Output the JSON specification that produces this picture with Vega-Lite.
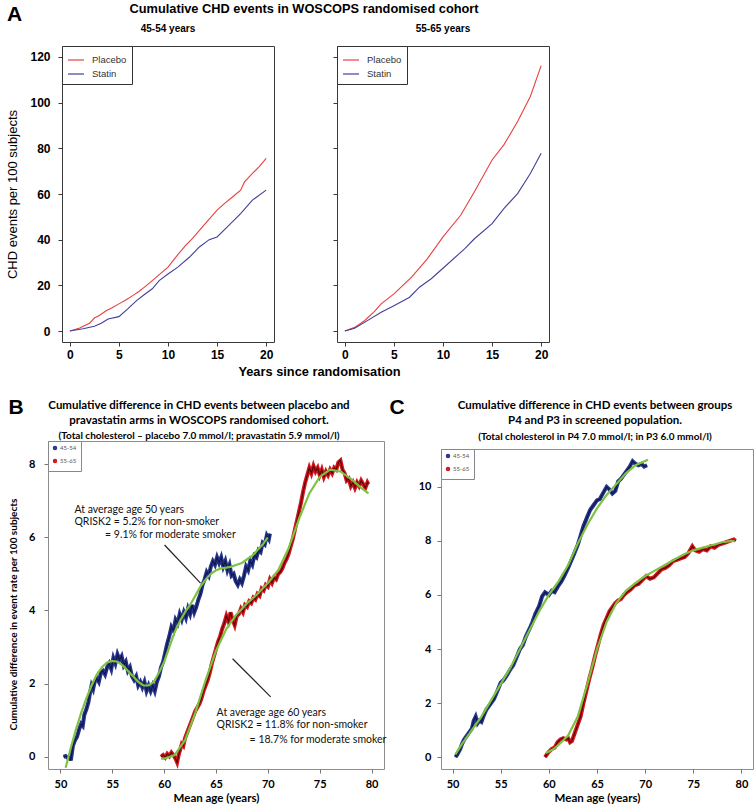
{
"$schema": "https://vega.github.io/schema/vega-lite/v6.json",
"background": "white",
"padding": {"left": 6, "top": 2, "right": 2, "bottom": 2},
"config": {"view": {"stroke": null}, "axis": {"grid": false, "domain": false, "tickSize": 4, "labelColor": "#000", "titleColor": "#000"}, "text": {"color": "#000"}},
"datasets": {
"aL": [
{"g":"Placebo","t":0,"v":0},{"g":"Placebo","t":1,"v":1.3},{"g":"Placebo","t":2,"v":3.4},{"g":"Placebo","t":2.5,"v":5.7},{"g":"Placebo","t":3,"v":6.8},{"g":"Placebo","t":3.7,"v":8.9},{"g":"Placebo","t":4.3,"v":10.2},{"g":"Placebo","t":5,"v":11.9},{"g":"Placebo","t":5.7,"v":13.6},{"g":"Placebo","t":6.4,"v":15.5},{"g":"Placebo","t":7,"v":17.2},{"g":"Placebo","t":7.6,"v":19.2},{"g":"Placebo","t":8.4,"v":22.1},{"g":"Placebo","t":9.2,"v":25},{"g":"Placebo","t":10,"v":28},{"g":"Placebo","t":10.8,"v":32.4},{"g":"Placebo","t":11.8,"v":37.5},{"g":"Placebo","t":12.5,"v":40.6},{"g":"Placebo","t":13.2,"v":44.1},{"g":"Placebo","t":14,"v":48},{"g":"Placebo","t":15,"v":52.9},{"g":"Placebo","t":15.8,"v":56},{"g":"Placebo","t":16.6,"v":58.8},{"g":"Placebo","t":17.4,"v":61.7},{"g":"Placebo","t":17.8,"v":65.3},{"g":"Placebo","t":18.6,"v":69},{"g":"Placebo","t":19.3,"v":72},{"g":"Placebo","t":20,"v":75.6},
{"g":"Statin","t":0,"v":0},{"g":"Statin","t":1.35,"v":1},{"g":"Statin","t":2.5,"v":2.1},{"g":"Statin","t":3.2,"v":3.4},{"g":"Statin","t":3.9,"v":5.3},{"g":"Statin","t":5,"v":6.3},{"g":"Statin","t":5.9,"v":9.7},{"g":"Statin","t":6.8,"v":13.3},{"g":"Statin","t":7.6,"v":16},{"g":"Statin","t":8.4,"v":18.5},{"g":"Statin","t":9.1,"v":22.1},{"g":"Statin","t":10,"v":25},{"g":"Statin","t":11,"v":28},{"g":"Statin","t":12.2,"v":32.4},{"g":"Statin","t":13.2,"v":36.8},{"g":"Statin","t":14.2,"v":40},{"g":"Statin","t":15,"v":41.2},{"g":"Statin","t":16.2,"v":46.3},{"g":"Statin","t":17.4,"v":51.4},{"g":"Statin","t":18.6,"v":57.3},{"g":"Statin","t":20,"v":61.7}
],
"aR": [
{"g":"Placebo","t":0,"v":0},{"g":"Placebo","t":1,"v":1.6},{"g":"Placebo","t":2,"v":4.5},{"g":"Placebo","t":3,"v":8.5},{"g":"Placebo","t":3.7,"v":11.9},{"g":"Placebo","t":5,"v":16.3},{"g":"Placebo","t":6.8,"v":23.6},{"g":"Placebo","t":8.4,"v":31.6},{"g":"Placebo","t":10,"v":41.2},{"g":"Placebo","t":11.8,"v":50.7},{"g":"Placebo","t":13.2,"v":61},{"g":"Placebo","t":15,"v":74.9},{"g":"Placebo","t":16.2,"v":81.5},{"g":"Placebo","t":17.6,"v":91.7},{"g":"Placebo","t":18.9,"v":102.7},{"g":"Placebo","t":20,"v":116.2},
{"g":"Statin","t":0,"v":0},{"g":"Statin","t":1,"v":1.2},{"g":"Statin","t":2,"v":3.8},{"g":"Statin","t":3.7,"v":8.2},{"g":"Statin","t":5,"v":11.1},{"g":"Statin","t":6.6,"v":14.8},{"g":"Statin","t":7.6,"v":19.2},{"g":"Statin","t":8.8,"v":22.9},{"g":"Statin","t":10,"v":27.5},{"g":"Statin","t":12.2,"v":36},{"g":"Statin","t":13.2,"v":40.4},{"g":"Statin","t":15,"v":47},{"g":"Statin","t":16.2,"v":53.6},{"g":"Statin","t":17.6,"v":60.2},{"g":"Statin","t":18.9,"v":69},{"g":"Statin","t":20,"v":77.8}
],
"bL": [
{"s":"45-54","a":50.3,"v":0},{"s":"45-54","a":50.5,"v":0.02},{"s":"45-54","a":50.7,"v":-0.03},{"s":"45-54","a":50.9,"v":0},{"s":"45-54","a":51.0,"v":-0.1},{"s":"45-54","a":51.2,"v":0.3},{"s":"45-54","a":51.4,"v":0.45},{"s":"45-54","a":51.6,"v":0.55},{"s":"45-54","a":51.8,"v":0.75},{"s":"45-54","a":52.0,"v":0.9},{"s":"45-54","a":52.15,"v":0.85},{"s":"45-54","a":52.3,"v":1.15},{"s":"45-54","a":52.5,"v":1.3},{"s":"45-54","a":52.7,"v":1.5},{"s":"45-54","a":52.85,"v":1.75},{"s":"45-54","a":53.0,"v":1.95},{"s":"45-54","a":53.15,"v":1.85},{"s":"45-54","a":53.3,"v":2.05},{"s":"45-54","a":53.5,"v":2.15},{"s":"45-54","a":53.7,"v":2.05},{"s":"45-54","a":53.9,"v":2.3},{"s":"45-54","a":54.1,"v":2.35},{"s":"45-54","a":54.3,"v":2.25},{"s":"45-54","a":54.5,"v":2.45},{"s":"45-54","a":54.7,"v":2.55},{"s":"45-54","a":54.9,"v":2.4},{"s":"45-54","a":55.1,"v":2.7},{"s":"45-54","a":55.3,"v":2.55},{"s":"45-54","a":55.5,"v":2.8},{"s":"45-54","a":55.7,"v":2.65},{"s":"45-54","a":55.9,"v":2.75},{"s":"45-54","a":56.1,"v":2.5},{"s":"45-54","a":56.3,"v":2.6},{"s":"45-54","a":56.5,"v":2.35},{"s":"45-54","a":56.7,"v":2.45},{"s":"45-54","a":56.9,"v":2.2},{"s":"45-54","a":57.1,"v":2.1},{"s":"45-54","a":57.3,"v":2.2},{"s":"45-54","a":57.5,"v":1.95},{"s":"45-54","a":57.7,"v":2.05},{"s":"45-54","a":57.9,"v":1.9},{"s":"45-54","a":58.1,"v":2.05},{"s":"45-54","a":58.3,"v":1.8},{"s":"45-54","a":58.5,"v":1.95},{"s":"45-54","a":58.7,"v":1.8},{"s":"45-54","a":58.9,"v":1.95},{"s":"45-54","a":59.1,"v":1.8},{"s":"45-54","a":59.3,"v":2.05},{"s":"45-54","a":59.5,"v":2.2},{"s":"45-54","a":59.7,"v":2.45},{"s":"45-54","a":59.9,"v":2.6},{"s":"45-54","a":60.1,"v":2.85},{"s":"45-54","a":60.3,"v":3.1},{"s":"45-54","a":60.5,"v":3.3},{"s":"45-54","a":60.7,"v":3.55},{"s":"45-54","a":60.9,"v":3.45},{"s":"45-54","a":61.1,"v":3.75},{"s":"45-54","a":61.3,"v":3.65},{"s":"45-54","a":61.5,"v":3.9},{"s":"45-54","a":61.7,"v":3.75},{"s":"45-54","a":61.9,"v":3.95},{"s":"45-54","a":62.1,"v":3.8},{"s":"45-54","a":62.3,"v":4.05},{"s":"45-54","a":62.5,"v":3.9},{"s":"45-54","a":62.7,"v":4.15},{"s":"45-54","a":62.9,"v":3.95},{"s":"45-54","a":63.1,"v":4.1},{"s":"45-54","a":63.3,"v":4.3},{"s":"45-54","a":63.5,"v":4.45},{"s":"45-54","a":63.7,"v":4.7},{"s":"45-54","a":63.9,"v":4.85},{"s":"45-54","a":64.1,"v":5.05},{"s":"45-54","a":64.3,"v":4.95},{"s":"45-54","a":64.5,"v":5.2},{"s":"45-54","a":64.7,"v":5.35},{"s":"45-54","a":64.9,"v":5.25},{"s":"45-54","a":65.1,"v":5.45},{"s":"45-54","a":65.3,"v":5.3},{"s":"45-54","a":65.5,"v":5.45},{"s":"45-54","a":65.7,"v":5.2},{"s":"45-54","a":65.9,"v":5.35},{"s":"45-54","a":66.1,"v":5.1},{"s":"45-54","a":66.3,"v":5.25},{"s":"45-54","a":66.5,"v":4.95},{"s":"45-54","a":66.7,"v":5.0},{"s":"45-54","a":66.9,"v":4.8},{"s":"45-54","a":67.1,"v":4.7},{"s":"45-54","a":67.3,"v":4.85},{"s":"45-54","a":67.5,"v":4.75},{"s":"45-54","a":67.7,"v":4.95},{"s":"45-54","a":67.9,"v":5.2},{"s":"45-54","a":68.1,"v":5.1},{"s":"45-54","a":68.3,"v":5.35},{"s":"45-54","a":68.5,"v":5.25},{"s":"45-54","a":68.7,"v":5.5},{"s":"45-54","a":68.9,"v":5.45},{"s":"45-54","a":69.1,"v":5.65},{"s":"45-54","a":69.3,"v":5.6},{"s":"45-54","a":69.5,"v":5.85},{"s":"45-54","a":69.7,"v":5.8},{"s":"45-54","a":69.9,"v":6.05},{"s":"45-54","a":70.1,"v":5.95},{"s":"45-54","a":70.2,"v":6.1},
{"s":"55-65","a":59.7,"v":0},{"s":"55-65","a":59.9,"v":0.05},{"s":"55-65","a":60.1,"v":-0.02},{"s":"55-65","a":60.3,"v":0.08},{"s":"55-65","a":60.5,"v":0.02},{"s":"55-65","a":60.7,"v":0.12},{"s":"55-65","a":60.9,"v":0.05},{"s":"55-65","a":61.1,"v":-0.05},{"s":"55-65","a":61.25,"v":-0.15},{"s":"55-65","a":61.4,"v":0.05},{"s":"55-65","a":61.55,"v":0.2},{"s":"55-65","a":61.7,"v":0.35},{"s":"55-65","a":61.85,"v":0.3},{"s":"55-65","a":62.0,"v":0.5},{"s":"55-65","a":62.2,"v":0.65},{"s":"55-65","a":62.4,"v":0.8},{"s":"55-65","a":62.6,"v":0.95},{"s":"55-65","a":62.8,"v":1.1},{"s":"55-65","a":63.0,"v":1.25},{"s":"55-65","a":63.2,"v":1.35},{"s":"55-65","a":63.4,"v":1.45},{"s":"55-65","a":63.6,"v":1.6},{"s":"55-65","a":63.8,"v":1.8},{"s":"55-65","a":64.0,"v":1.95},{"s":"55-65","a":64.2,"v":2.1},{"s":"55-65","a":64.4,"v":2.3},{"s":"55-65","a":64.6,"v":2.55},{"s":"55-65","a":64.8,"v":2.75},{"s":"55-65","a":65.0,"v":2.95},{"s":"55-65","a":65.2,"v":3.15},{"s":"55-65","a":65.4,"v":3.3},{"s":"55-65","a":65.6,"v":3.5},{"s":"55-65","a":65.8,"v":3.65},{"s":"55-65","a":66.0,"v":3.85},{"s":"55-65","a":66.2,"v":3.7},{"s":"55-65","a":66.4,"v":3.95},{"s":"55-65","a":66.6,"v":3.75},{"s":"55-65","a":66.8,"v":3.6},{"s":"55-65","a":67.0,"v":3.85},{"s":"55-65","a":67.2,"v":3.9},{"s":"55-65","a":67.4,"v":4.05},{"s":"55-65","a":67.6,"v":3.95},{"s":"55-65","a":67.8,"v":4.15},{"s":"55-65","a":68.0,"v":4.1},{"s":"55-65","a":68.2,"v":4.25},{"s":"55-65","a":68.4,"v":4.2},{"s":"55-65","a":68.6,"v":4.35},{"s":"55-65","a":68.8,"v":4.3},{"s":"55-65","a":69.0,"v":4.45},{"s":"55-65","a":69.2,"v":4.4},{"s":"55-65","a":69.4,"v":4.6},{"s":"55-65","a":69.6,"v":4.55},{"s":"55-65","a":69.8,"v":4.7},{"s":"55-65","a":70.0,"v":4.65},{"s":"55-65","a":70.2,"v":4.85},{"s":"55-65","a":70.4,"v":4.75},{"s":"55-65","a":70.6,"v":4.9},{"s":"55-65","a":70.8,"v":4.85},{"s":"55-65","a":71.0,"v":5.0},{"s":"55-65","a":71.2,"v":5.05},{"s":"55-65","a":71.4,"v":5.15},{"s":"55-65","a":71.6,"v":5.3},{"s":"55-65","a":71.8,"v":5.4},{"s":"55-65","a":72.0,"v":5.55},{"s":"55-65","a":72.2,"v":5.75},{"s":"55-65","a":72.4,"v":5.95},{"s":"55-65","a":72.6,"v":6.2},{"s":"55-65","a":72.8,"v":6.45},{"s":"55-65","a":73.0,"v":6.7},{"s":"55-65","a":73.2,"v":6.95},{"s":"55-65","a":73.4,"v":7.25},{"s":"55-65","a":73.6,"v":7.5},{"s":"55-65","a":73.8,"v":7.7},{"s":"55-65","a":74.0,"v":7.9},{"s":"55-65","a":74.2,"v":7.75},{"s":"55-65","a":74.4,"v":7.95},{"s":"55-65","a":74.6,"v":7.8},{"s":"55-65","a":74.8,"v":7.9},{"s":"55-65","a":75.0,"v":7.7},{"s":"55-65","a":75.2,"v":7.85},{"s":"55-65","a":75.4,"v":7.65},{"s":"55-65","a":75.6,"v":7.8},{"s":"55-65","a":75.8,"v":7.7},{"s":"55-65","a":76.0,"v":7.85},{"s":"55-65","a":76.2,"v":7.75},{"s":"55-65","a":76.4,"v":7.9},{"s":"55-65","a":76.6,"v":7.85},{"s":"55-65","a":76.8,"v":8.05},{"s":"55-65","a":77.0,"v":8.1},{"s":"55-65","a":77.2,"v":7.85},{"s":"55-65","a":77.4,"v":7.75},{"s":"55-65","a":77.6,"v":7.55},{"s":"55-65","a":77.8,"v":7.6},{"s":"55-65","a":78.0,"v":7.4},{"s":"55-65","a":78.2,"v":7.5},{"s":"55-65","a":78.4,"v":7.35},{"s":"55-65","a":78.6,"v":7.5},{"s":"55-65","a":78.8,"v":7.4},{"s":"55-65","a":79.0,"v":7.55},{"s":"55-65","a":79.2,"v":7.45},{"s":"55-65","a":79.4,"v":7.35},{"s":"55-65","a":79.6,"v":7.5},{"s":"55-65","a":79.7,"v":7.45}
],
"bF": [
{"s":"45-54","a":50.5,"v":-0.3},{"s":"45-54","a":51,"v":0.25},{"s":"45-54","a":51.5,"v":0.75},{"s":"45-54","a":52,"v":1.2},{"s":"45-54","a":52.5,"v":1.6},{"s":"45-54","a":53,"v":1.95},{"s":"45-54","a":53.5,"v":2.25},{"s":"45-54","a":54,"v":2.45},{"s":"45-54","a":54.5,"v":2.58},{"s":"45-54","a":55,"v":2.62},{"s":"45-54","a":55.5,"v":2.6},{"s":"45-54","a":56,"v":2.5},{"s":"45-54","a":56.5,"v":2.35},{"s":"45-54","a":57,"v":2.2},{"s":"45-54","a":57.5,"v":2.05},{"s":"45-54","a":58,"v":1.95},{"s":"45-54","a":58.5,"v":1.95},{"s":"45-54","a":59,"v":2.05},{"s":"45-54","a":59.5,"v":2.3},{"s":"45-54","a":60,"v":2.6},{"s":"45-54","a":60.5,"v":3.0},{"s":"45-54","a":61,"v":3.4},{"s":"45-54","a":61.5,"v":3.7},{"s":"45-54","a":62,"v":3.95},{"s":"45-54","a":62.5,"v":4.15},{"s":"45-54","a":63,"v":4.4},{"s":"45-54","a":63.5,"v":4.65},{"s":"45-54","a":64,"v":4.85},{"s":"45-54","a":64.5,"v":5.0},{"s":"45-54","a":65,"v":5.1},{"s":"45-54","a":65.5,"v":5.15},{"s":"45-54","a":66,"v":5.17},{"s":"45-54","a":66.5,"v":5.2},{"s":"45-54","a":67,"v":5.25},{"s":"45-54","a":67.5,"v":5.3},{"s":"45-54","a":68,"v":5.4},{"s":"45-54","a":68.5,"v":5.5},{"s":"45-54","a":69,"v":5.65},{"s":"45-54","a":69.5,"v":5.8},{"s":"45-54","a":70,"v":6.0},
{"s":"55-65","a":59.7,"v":-0.05},{"s":"55-65","a":60,"v":-0.05},{"s":"55-65","a":61,"v":0.05},{"s":"55-65","a":62,"v":0.45},{"s":"55-65","a":63,"v":1.2},{"s":"55-65","a":64,"v":2.1},{"s":"55-65","a":65,"v":2.9},{"s":"55-65","a":66,"v":3.5},{"s":"55-65","a":67,"v":3.9},{"s":"55-65","a":68,"v":4.2},{"s":"55-65","a":69,"v":4.45},{"s":"55-65","a":70,"v":4.75},{"s":"55-65","a":71,"v":5.1},{"s":"55-65","a":72,"v":5.7},{"s":"55-65","a":73,"v":6.5},{"s":"55-65","a":74,"v":7.2},{"s":"55-65","a":75,"v":7.65},{"s":"55-65","a":76,"v":7.85},{"s":"55-65","a":77,"v":7.8},{"s":"55-65","a":78,"v":7.6},{"s":"55-65","a":79,"v":7.35},{"s":"55-65","a":79.7,"v":7.2}
],
"cL": [
{"s":"45-54","a":50.3,"v":0},{"s":"45-54","a":50.5,"v":0.1},{"s":"45-54","a":50.8,"v":0.3},{"s":"45-54","a":51.0,"v":0.5},{"s":"45-54","a":51.2,"v":0.65},{"s":"45-54","a":51.5,"v":0.8},{"s":"45-54","a":51.8,"v":0.95},{"s":"45-54","a":52.0,"v":1.05},{"s":"45-54","a":52.2,"v":1.35},{"s":"45-54","a":52.4,"v":1.5},{"s":"45-54","a":52.6,"v":1.25},{"s":"45-54","a":52.8,"v":1.35},{"s":"45-54","a":53.0,"v":1.3},{"s":"45-54","a":53.2,"v":1.5},{"s":"45-54","a":53.5,"v":1.75},{"s":"45-54","a":53.7,"v":1.85},{"s":"45-54","a":54.0,"v":2.0},{"s":"45-54","a":54.3,"v":2.15},{"s":"45-54","a":54.6,"v":2.4},{"s":"45-54","a":55.0,"v":2.75},{"s":"45-54","a":55.3,"v":2.85},{"s":"45-54","a":55.6,"v":3.0},{"s":"45-54","a":56.0,"v":3.25},{"s":"45-54","a":56.3,"v":3.4},{"s":"45-54","a":56.6,"v":3.65},{"s":"45-54","a":57.0,"v":4.0},{"s":"45-54","a":57.3,"v":4.15},{"s":"45-54","a":57.6,"v":4.45},{"s":"45-54","a":58.0,"v":4.75},{"s":"45-54","a":58.3,"v":5.0},{"s":"45-54","a":58.6,"v":5.3},{"s":"45-54","a":59.0,"v":5.6},{"s":"45-54","a":59.3,"v":5.95},{"s":"45-54","a":59.6,"v":6.1},{"s":"45-54","a":60.0,"v":6.0},{"s":"45-54","a":60.3,"v":6.15},{"s":"45-54","a":60.6,"v":6.1},{"s":"45-54","a":61.0,"v":6.35},{"s":"45-54","a":61.3,"v":6.5},{"s":"45-54","a":61.6,"v":6.7},{"s":"45-54","a":62.0,"v":7.0},{"s":"45-54","a":62.3,"v":7.25},{"s":"45-54","a":62.6,"v":7.5},{"s":"45-54","a":63.0,"v":7.85},{"s":"45-54","a":63.3,"v":8.2},{"s":"45-54","a":63.6,"v":8.55},{"s":"45-54","a":64.0,"v":8.9},{"s":"45-54","a":64.3,"v":9.15},{"s":"45-54","a":64.6,"v":9.3},{"s":"45-54","a":65.0,"v":9.5},{"s":"45-54","a":65.3,"v":9.55},{"s":"45-54","a":65.6,"v":9.75},{"s":"45-54","a":66.0,"v":10.0},{"s":"45-54","a":66.3,"v":9.9},{"s":"45-54","a":66.6,"v":9.75},{"s":"45-54","a":66.9,"v":9.85},{"s":"45-54","a":67.2,"v":10.2},{"s":"45-54","a":67.5,"v":10.3},{"s":"45-54","a":67.8,"v":10.45},{"s":"45-54","a":68.1,"v":10.6},{"s":"45-54","a":68.4,"v":10.75},{"s":"45-54","a":68.7,"v":10.95},{"s":"45-54","a":69.0,"v":10.85},{"s":"45-54","a":69.3,"v":10.8},{"s":"45-54","a":69.6,"v":10.85},{"s":"45-54","a":69.9,"v":10.75},{"s":"45-54","a":70.2,"v":10.8},
{"s":"55-65","a":59.6,"v":0},{"s":"55-65","a":59.8,"v":0.1},{"s":"55-65","a":60.0,"v":0.2},{"s":"55-65","a":60.3,"v":0.3},{"s":"55-65","a":60.6,"v":0.35},{"s":"55-65","a":60.9,"v":0.55},{"s":"55-65","a":61.2,"v":0.65},{"s":"55-65","a":61.5,"v":0.7},{"s":"55-65","a":61.8,"v":0.65},{"s":"55-65","a":62.0,"v":0.7},{"s":"55-65","a":62.2,"v":0.55},{"s":"55-65","a":62.4,"v":0.6},{"s":"55-65","a":62.7,"v":0.9},{"s":"55-65","a":63.0,"v":1.2},{"s":"55-65","a":63.3,"v":1.5},{"s":"55-65","a":63.6,"v":2.0},{"s":"55-65","a":63.9,"v":2.45},{"s":"55-65","a":64.2,"v":2.9},{"s":"55-65","a":64.5,"v":3.3},{"s":"55-65","a":64.8,"v":3.75},{"s":"55-65","a":65.1,"v":4.15},{"s":"55-65","a":65.4,"v":4.55},{"s":"55-65","a":65.7,"v":4.9},{"s":"55-65","a":66.0,"v":5.15},{"s":"55-65","a":66.3,"v":5.4},{"s":"55-65","a":66.6,"v":5.55},{"s":"55-65","a":66.9,"v":5.7},{"s":"55-65","a":67.2,"v":5.8},{"s":"55-65","a":67.5,"v":5.85},{"s":"55-65","a":67.8,"v":6.0},{"s":"55-65","a":68.1,"v":6.1},{"s":"55-65","a":68.5,"v":6.2},{"s":"55-65","a":68.9,"v":6.35},{"s":"55-65","a":69.3,"v":6.4},{"s":"55-65","a":69.7,"v":6.55},{"s":"55-65","a":70.1,"v":6.7},{"s":"55-65","a":70.5,"v":6.6},{"s":"55-65","a":70.9,"v":6.65},{"s":"55-65","a":71.3,"v":6.8},{"s":"55-65","a":71.7,"v":6.95},{"s":"55-65","a":72.1,"v":7.0},{"s":"55-65","a":72.5,"v":7.1},{"s":"55-65","a":72.9,"v":7.25},{"s":"55-65","a":73.3,"v":7.3},{"s":"55-65","a":73.7,"v":7.35},{"s":"55-65","a":74.1,"v":7.4},{"s":"55-65","a":74.5,"v":7.55},{"s":"55-65","a":74.9,"v":7.8},{"s":"55-65","a":75.2,"v":7.65},{"s":"55-65","a":75.6,"v":7.6},{"s":"55-65","a":76.0,"v":7.7},{"s":"55-65","a":76.4,"v":7.65},{"s":"55-65","a":76.8,"v":7.8},{"s":"55-65","a":77.2,"v":7.75},{"s":"55-65","a":77.6,"v":7.85},{"s":"55-65","a":78.0,"v":7.9},{"s":"55-65","a":78.4,"v":7.95},{"s":"55-65","a":78.8,"v":8.0},{"s":"55-65","a":79.2,"v":8.05},{"s":"55-65","a":79.4,"v":8.0}
],
"cF": [
{"s":"45-54","a":50.3,"v":0.1},{"s":"45-54","a":51,"v":0.5},{"s":"45-54","a":52,"v":1.0},{"s":"45-54","a":53,"v":1.5},{"s":"45-54","a":54,"v":2.1},{"s":"45-54","a":55,"v":2.7},{"s":"45-54","a":56,"v":3.3},{"s":"45-54","a":57,"v":4.0},{"s":"45-54","a":58,"v":4.7},{"s":"45-54","a":59,"v":5.4},{"s":"45-54","a":60,"v":6.0},{"s":"45-54","a":61,"v":6.5},{"s":"45-54","a":62,"v":7.1},{"s":"45-54","a":63,"v":7.9},{"s":"45-54","a":64,"v":8.6},{"s":"45-54","a":65,"v":9.2},{"s":"45-54","a":66,"v":9.7},{"s":"45-54","a":67,"v":10.1},{"s":"45-54","a":68,"v":10.5},{"s":"45-54","a":69,"v":10.8},{"s":"45-54","a":70.3,"v":11.0},
{"s":"55-65","a":59.7,"v":0.15},{"s":"55-65","a":60.5,"v":0.3},{"s":"55-65","a":61,"v":0.45},{"s":"55-65","a":62,"v":0.8},{"s":"55-65","a":63,"v":1.5},{"s":"55-65","a":64,"v":2.7},{"s":"55-65","a":65,"v":4.0},{"s":"55-65","a":66,"v":5.0},{"s":"55-65","a":67,"v":5.7},{"s":"55-65","a":68,"v":6.15},{"s":"55-65","a":69,"v":6.45},{"s":"55-65","a":70,"v":6.7},{"s":"55-65","a":71,"v":6.9},{"s":"55-65","a":72,"v":7.1},{"s":"55-65","a":73,"v":7.3},{"s":"55-65","a":74,"v":7.5},{"s":"55-65","a":75,"v":7.65},{"s":"55-65","a":76,"v":7.75},{"s":"55-65","a":77,"v":7.85},{"s":"55-65","a":78,"v":7.95},{"s":"55-65","a":79,"v":8.0},{"s":"55-65","a":79.3,"v":8.0}
],
"bAnn": [
{"a":51.35,"v":6.75,"t":"At average age 50 years"},
{"a":51.35,"v":6.42,"t":"QRISK2 = 5.2% for non-smoker"},
{"a":54.3,"v":6.07,"t":"= 9.1% for moderate smoker"},
{"a":65.06,"v":1.2,"t":"At average age 60 years"},
{"a":65.06,"v":0.87,"t":"QRISK2 = 11.8% for non-smoker"},
{"a":68.24,"v":0.46,"t":"= 18.7% for moderate smoker"}
],
"bRule": [
{"a":60.04,"v":5.79,"a2":63.51,"v2":4.75},
{"a":66.6,"v":2.68,"a2":70.27,"v2":1.64}
]
},
"spacing": 17,
"resolve": {"scale": {"color": "independent", "stroke": "independent"}},
"vconcat": [
{
"bounds": "flush",
"spacing": 13,
"resolve": {"scale": {"color": "independent"}},
"hconcat": [
{"width": 1, "height": 1, "data": {"values": [{"z": 0}]}, "mark": {"type": "point", "opacity": 0}},
{
"bounds": "flush",
"spacing": 63,
"resolve": {"scale": {"color": "independent"}},
"hconcat": [
{
"width": 212, "height": 296,
"view": {"stroke": "#3a3a3a", "strokeWidth": 1},
"encoding": {
"x": {"field": "t", "type": "quantitative", "scale": {"domain": [-0.8, 20.8], "nice": false, "zero": false}, "axis": {"values": [0,5,10,15,20], "title": "Years since randomisation", "titleX": 257, "labelFont": "Liberation Sans", "labelFontSize": 12, "labelFontWeight": "bold", "labelPadding": 3, "titleFont": "Liberation Sans", "titleFontSize": 12.8, "titleFontWeight": "bold", "titlePadding": 5, "tickColor": "#3a3a3a"}},
"y": {"field": "v", "type": "quantitative", "scale": {"domain": [-4.8, 124.8], "nice": false, "zero": false}, "axis": {"values": [0,20,40,60,80,100,120], "title": "CHD events per 100 subjects", "labelFont": "Liberation Sans", "labelFontSize": 12, "labelFontWeight": "bold", "labelPadding": 8, "titleFont": "Liberation Sans", "titleFontSize": 13, "titleFontWeight": "normal", "titlePadding": 10, "tickColor": "#3a3a3a"}}
},
"layer": [
{"data": {"name": "aL"}, "mark": {"type": "line", "strokeWidth": 1.1}, "encoding": {"color": {"field": "g", "type": "nominal", "scale": {"domain": ["Placebo", "Statin"], "range": ["#e8403f", "#40409a"]}, "legend": {"orient": "top-left", "offset": 0, "title": null, "symbolType": "stroke", "symbolSize": 256, "symbolStrokeWidth": 1.2, "labelFont": "Liberation Sans", "labelFontSize": 9.5, "labelColor": "#333", "strokeColor": "#333", "fillColor": "white", "padding": 5, "rowPadding": 0, "labelOffset": 7}}}},
{"data": {"values": [{"t": -5.64, "v": 138.4, "label": "A"}]}, "mark": {"type": "text", "font": "Liberation Sans", "fontWeight": "bold", "fontSize": 21, "baseline": "middle", "align": "center"}, "encoding": {"text": {"field": "label"}}},
{"data": {"values": [{"t": 23.86, "v": 141.2, "label": "Cumulative CHD events in WOSCOPS randomised cohort"}]}, "mark": {"type": "text", "font": "Liberation Sans", "fontWeight": "bold", "fontSize": 12.8, "baseline": "middle", "align": "center"}, "encoding": {"text": {"field": "label"}}},
{"data": {"values": [{"t": 10, "v": 132.2, "label": "45-54 years"}]}, "mark": {"type": "text", "font": "Liberation Sans", "fontWeight": "bold", "fontSize": 10, "baseline": "middle", "align": "center"}, "encoding": {"text": {"field": "label"}}}
]
},
{
"width": 212, "height": 296,
"view": {"stroke": "#3a3a3a", "strokeWidth": 1},
"encoding": {
"x": {"field": "t", "type": "quantitative", "scale": {"domain": [-0.8, 20.8], "nice": false, "zero": false}, "axis": {"values": [0,5,10,15,20], "title": null, "labelFont": "Liberation Sans", "labelFontSize": 12, "labelFontWeight": "bold", "labelPadding": 3, "tickColor": "#3a3a3a"}},
"y": {"field": "v", "type": "quantitative", "scale": {"domain": [-4.8, 124.8], "nice": false, "zero": false}, "axis": {"values": [0,20,40,60,80,100,120], "title": null, "labels": false, "tickColor": "#3a3a3a"}}
},
"layer": [
{"data": {"name": "aR"}, "mark": {"type": "line", "strokeWidth": 1.1}, "encoding": {"color": {"field": "g", "type": "nominal", "scale": {"domain": ["Placebo", "Statin"], "range": ["#e8403f", "#40409a"]}, "legend": {"orient": "top-left", "offset": 0, "title": null, "symbolType": "stroke", "symbolSize": 256, "symbolStrokeWidth": 1.2, "labelFont": "Liberation Sans", "labelFontSize": 9.5, "labelColor": "#333", "strokeColor": "#333", "fillColor": "white", "padding": 5, "rowPadding": 0, "labelOffset": 7}}}},
{"data": {"values": [{"t": 10, "v": 132.2, "label": "55-65 years"}]}, "mark": {"type": "text", "font": "Liberation Sans", "fontWeight": "bold", "fontSize": 10, "baseline": "middle", "align": "center"}, "encoding": {"text": {"field": "label"}}}
]
}
]
}
]
},
{
"bounds": "flush",
"spacing": 57,
"resolve": {"scale": {"color": "independent", "stroke": "independent"}},
"hconcat": [
{
"width": 336, "height": 328,
"view": {"stroke": "#8c8c8c", "strokeWidth": 1},
"encoding": {
"x": {"field": "a", "type": "quantitative", "scale": {"domain": [48.8, 81.2], "nice": false, "zero": false}, "axis": {"values": [50,55,60,65,70,75,80], "title": "Mean age (years)", "labelFont": "Lato", "labelFontSize": 11, "labelFontWeight": "bold", "labelPadding": 5, "titleFont": "Lato", "titleFontSize": 11.5, "titleFontWeight": "bold", "titlePadding": 3, "tickColor": "#777"}},
"y": {"field": "v", "type": "quantitative", "scale": {"domain": [-0.332, 8.632], "nice": false, "zero": false}, "axis": {"values": [0,2,4,6,8], "title": "Cumulative difference in event rate per 100 subjects", "titleY": 173, "labelFont": "Lato", "labelFontSize": 11, "labelFontWeight": "bold", "labelPadding": 9, "titleFont": "Lato", "titleFontSize": 10, "titleFontWeight": "bold", "titlePadding": 10, "tickColor": "#777"}}
},
"layer": [
{"data": {"name": "bL"}, "mark": {"type": "line", "strokeWidth": 4}, "encoding": {"color": {"field": "s", "type": "nominal", "scale": {"domain": ["45-54", "55-65"], "range": ["#27358c", "#d2161e"]}, "legend": {"orient": "top-left", "offset": 0, "title": null, "symbolType": "circle", "symbolSize": 4, "symbolStrokeWidth": 2.5, "labelFont": "Lato", "labelFontSize": 6, "labelColor": "#555", "strokeColor": "#888", "fillColor": "white", "padding": 4, "rowPadding": 1, "labelOffset": 2}}}},
{"data": {"name": "bL"}, "mark": {"type": "line", "strokeWidth": 1.2, "opacity": 0.85}, "encoding": {"stroke": {"field": "s", "type": "nominal", "scale": {"domain": ["45-54", "55-65"], "range": ["#0d1240", "#4a0000"]}, "legend": null}}},
{"data": {"name": "bF"}, "mark": {"type": "line", "strokeWidth": 2.2, "color": "#7dc242"}, "encoding": {"detail": {"field": "s"}}},
{"data": {"name": "bRule"}, "mark": {"type": "rule", "color": "#222", "strokeWidth": 1.2}, "encoding": {"x2": {"field": "a2"}, "y2": {"field": "v2"}}},
{"data": {"name": "bAnn"}, "mark": {"type": "text", "font": "Lato", "fontSize": 10.5, "align": "left", "baseline": "middle", "color": "#111"}, "encoding": {"text": {"field": "t"}}},
{"data": {"values": [{"a": 63.36, "v": 9.589, "t": "Cumulative difference in CHD events between placebo and"}, {"a": 63.36, "v": 9.179, "t": "pravastatin arms in WOSCOPS randomised cohort."}]}, "mark": {"type": "text", "font": "Lato", "fontSize": 11.5, "fontWeight": "bold", "align": "center", "baseline": "middle"}, "encoding": {"text": {"field": "t"}}},
{"data": {"values": [{"a": 63.36, "v": 8.755, "t": "(Total cholesterol – placebo 7.0 mmol/l; pravastatin 5.9 mmol/l)"}]}, "mark": {"type": "text", "font": "Lato", "fontSize": 10, "fontWeight": "bold", "align": "center", "baseline": "middle"}, "encoding": {"text": {"field": "t"}}},
{"data": {"values": [{"a": 45.71, "v": 9.53, "t": "B"}]}, "mark": {"type": "text", "font": "Liberation Sans", "fontSize": 21, "fontWeight": "bold", "align": "center", "baseline": "middle"}, "encoding": {"text": {"field": "t"}}}
]
},
{
"bounds": "flush",
"spacing": 7,
"resolve": {"scale": {"color": "independent", "stroke": "independent"}},
"vconcat": [
{"width": 1, "height": 1, "data": {"values": [{"z": 0}]}, "mark": {"type": "point", "opacity": 0}},
{
"width": 312, "height": 320,
"view": {"stroke": "#8c8c8c", "strokeWidth": 1},
"encoding": {
"x": {"field": "a", "type": "quantitative", "scale": {"domain": [48.8, 81.2], "nice": false, "zero": false}, "axis": {"values": [50,55,60,65,70,75,80], "title": "Mean age (years)", "labelFont": "Lato", "labelFontSize": 11, "labelFontWeight": "bold", "labelPadding": 5, "titleFont": "Lato", "titleFontSize": 11.5, "titleFontWeight": "bold", "titlePadding": 3, "tickColor": "#777"}},
"y": {"field": "v", "type": "quantitative", "scale": {"domain": [-0.44, 11.4], "nice": false, "zero": false}, "axis": {"values": [0,2,4,6,8,10], "title": null, "labelFont": "Lato", "labelFontSize": 11, "labelFontWeight": "bold", "labelPadding": 6, "tickColor": "#777"}}
},
"layer": [
{"data": {"name": "cL"}, "mark": {"type": "line", "strokeWidth": 4}, "encoding": {"color": {"field": "s", "type": "nominal", "scale": {"domain": ["45-54", "55-65"], "range": ["#27358c", "#d2161e"]}, "legend": {"orient": "top-left", "offset": 0, "title": null, "symbolType": "circle", "symbolSize": 4, "symbolStrokeWidth": 2.5, "labelFont": "Lato", "labelFontSize": 6, "labelColor": "#555", "strokeColor": "#888", "fillColor": "white", "padding": 4, "rowPadding": 1, "labelOffset": 2}}}},
{"data": {"name": "cL"}, "mark": {"type": "line", "strokeWidth": 1.2, "opacity": 0.85}, "encoding": {"stroke": {"field": "s", "type": "nominal", "scale": {"domain": ["45-54", "55-65"], "range": ["#0d1240", "#4a0000"]}, "legend": null}}},
{"data": {"name": "cF"}, "mark": {"type": "line", "strokeWidth": 2.2, "color": "#7dc242"}, "encoding": {"detail": {"field": "s"}}},
{"data": {"values": [{"a": 64.79, "v": 12.99, "t": "Cumulative difference in CHD events between groups"}, {"a": 64.79, "v": 12.436, "t": "P4  and P3 in screened population."}]}, "mark": {"type": "text", "font": "Lato", "fontSize": 11.5, "fontWeight": "bold", "align": "center", "baseline": "middle"}, "encoding": {"text": {"field": "t"}}},
{"data": {"values": [{"a": 64.79, "v": 11.862, "t": "(Total cholesterol in P4 7.0 mmol/l; in P3 6.0 mmol/l)"}]}, "mark": {"type": "text", "font": "Lato", "fontSize": 10, "fontWeight": "bold", "align": "center", "baseline": "middle"}, "encoding": {"text": {"field": "t"}}},
{"data": {"values": [{"a": 44.23, "v": 12.917, "t": "C"}]}, "mark": {"type": "text", "font": "Liberation Sans", "fontSize": 21, "fontWeight": "bold", "align": "center", "baseline": "middle"}, "encoding": {"text": {"field": "t"}}}
]
}
]
}
]
}
]
}
